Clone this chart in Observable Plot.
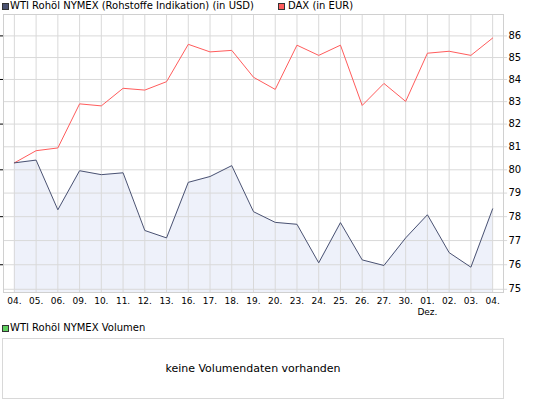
<!DOCTYPE html>
<html><head><meta charset="utf-8">
<script src="https://cdn.jsdelivr.net/npm/d3@7"></script>
<script src="https://cdn.jsdelivr.net/npm/@observablehq/plot@0.6"></script>
<style>
body{margin:0;background:#fff;font-family:"DejaVu Sans",sans-serif;}
#wrap{position:relative;width:545px;height:407px;overflow:hidden;}
.leg{position:absolute;font-size:10px;color:#000;white-space:nowrap;line-height:12px;}
.sw{position:absolute;width:5px;height:5px;border:1px solid #333;}
#chart{position:absolute;left:0;top:0;}
#vol{position:absolute;left:2px;top:338px;width:502px;height:61px;border:1px solid #d8d8d8;box-sizing:border-box;
  display:flex;align-items:center;justify-content:center;font-size:11px;color:#000;}
</style>
</head><body>
<div id="wrap">
  <div id="chart"></div>
  <div class="sw" style="left:2px;top:3px;background:#4a5272;"></div>
  <div class="leg" style="left:10px;top:0px;">WTI Rohöl NYMEX (Rohstoffe Indikation) (in USD)</div>
  <div class="sw" style="left:278px;top:3px;background:#ff5c5c;"></div>
  <div class="leg" style="left:288px;top:0px;">DAX (in EUR)</div>
  <div class="sw" style="left:2px;top:325px;background:#5fcf5f;"></div>
  <div class="leg" style="left:10px;top:322px;">WTI Rohöl NYMEX Volumen</div>
  <div id="vol">keine Volumendaten vorhanden</div>
</div>
<script>
const dates = ["04.","05.","06.","09.","10.","11.","12.","13.","16.","17.","18.","19.","20.","23.","24.","25.","26.","27.","30.","01.","02.","03.","04."];
const monthLabel = "Dez.";
const monthIndex = 19;
const wti = [80.3,80.42,78.29,79.96,79.79,79.87,77.42,77.11,79.46,79.71,80.18,78.21,77.76,77.68,76.08,77.75,76.2,75.97,77.11,78.08,76.5,75.9,78.33];
const dax = [80.3,80.83,80.95,82.9,82.81,83.6,83.52,83.9,85.61,85.26,85.33,84.1,83.55,85.57,85.1,85.57,82.83,83.82,83.01,85.2,85.29,85.1,85.9];
const yTicks = [75,76,77,78,79,80,81,82,83,84,85,86];

const idx = d3.range(dates.length);
const yMin = 74.87, yMax = 87;
const xMin = -0.5, xMax = dates.length - 0.5;
const grid = "#d9d9d9";

const chart = Plot.plot({
  width: 545, height: 320,
  marginTop: 14, marginBottom: 28, marginLeft: 3, marginRight: 42,
  x: {type: "linear", domain: [xMin, xMax]},
  y: {type: "log", domain: [yMin, yMax]},
  style: {fontFamily: "DejaVu Sans", fontSize: "9px", color: "#000", background: "#fff"},
  marks: [
    Plot.areaY(idx, {x: i => i, y1: yMin, y2: i => wti[i], fill: "#eef1fa"}),
    Plot.gridX({ticks: idx, stroke: grid, strokeOpacity: 1}),
    Plot.ruleY(yTicks, {y: d => d, x1: xMin, x2: xMax + 0.19, stroke: grid, strokeOpacity: 1}),
    Plot.frame({stroke: "#d0d0d0"}),
    Plot.lineY(idx, {x: i => i, y: i => dax[i], stroke: "#ff5c5c", strokeWidth: 1}),
    Plot.lineY(idx, {x: i => i, y: i => wti[i], stroke: "#4a5272", strokeWidth: 1}),
    Plot.text(yTicks, {x: xMax, y: d => d, text: d => String(d), dx: 5, textAnchor: "start", fill: "#000", fontSize: 10}),
    Plot.axisX({ticks: idx, tickFormat: i => dates[i], tickSize: 0, tickPadding: 5, label: null}),
    Plot.axisX({ticks: [monthIndex], tickFormat: () => monthLabel, tickSize: 0, tickPadding: 16, label: null})
  ]
});
document.getElementById("chart").appendChild(chart);
</script>
</body></html>
